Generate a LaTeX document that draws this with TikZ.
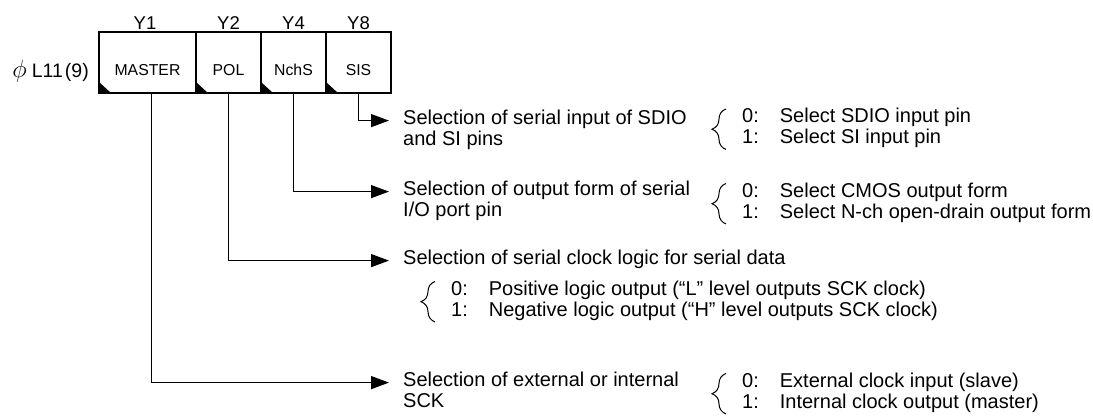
\documentclass[tikz,border=0pt]{standalone}
\usepackage{fontspec}
\setmainfont{Liberation Sans}
\usetikzlibrary{positioning,arrows.meta,decorations.pathreplacing,calc}
\tikzset{
  regcell/.style={draw,line width=1.3pt,outer sep=0pt,inner sep=0pt,minimum height=61pt,minimum width=65pt,text height=26pt,text depth=0pt,font=\fontsize{15.8}{17}\selectfont},
  regbit/.style={inner sep=0pt,font=\fontsize{18.5}{20}\selectfont},
  desc/.style={anchor=north west,align=left,inner sep=0pt,font=\fontsize{20}{21}\selectfont},
  optblock/.style={anchor=north west,inner sep=0pt,font=\fontsize{20}{21}\selectfont},
  selflow/.style={-{Triangle[length=18pt,width=13pt]},line width=1.3pt},
  selbrace/.style={decorate,decoration={brace,amplitude=14pt},line width=1pt}
}
\newcommand{\optrows}[2]{\begin{tabular}{@{}l@{\hspace{21pt}}l@{}}0: & #1\\1: & #2\end{tabular}}

\begin{document}
\begin{tikzpicture}[x=1pt,y=1pt]
  \useasboundingbox (0,0) rectangle (1093,-416);
  % register cells
  \node[regcell,minimum width=97pt] (master) at (147.5,-62.5) {MASTER};
  \node[regcell,right=0pt of master] (pol) {POL};
  \node[regcell,right=0pt of pol] (nchs) {NchS};
  \node[regcell,right=0pt of nchs] (sis) {SIS};
  \foreach \c in {master,pol,nchs,sis}
    \fill (\c.south west) -- ++(12,0) -- ++(-12,11) -- cycle;
  \node[regbit,above=2pt of master,xshift=-2.5pt] (y1) {Y1};
  \node[regbit,above=2pt of pol] (y2) {Y2};
  \node[regbit,above=2pt of nchs] (y4) {Y4};
  \node[regbit,above=2pt of sis] (y8) {Y8};
  \node[inner sep=0pt,font=\fontsize{19.5}{21}\selectfont,left=10pt of master,yshift=-8.5pt] (regname) {{\fontsize{25}{25}\selectfont$\phi$}\hspace{5pt}L11\hspace{2pt}(9)};
  % SIS
  \node[desc] (sisdesc) at (403,-109.6) {Selection of serial input of SDIO\\and SI pins};
  \node[optblock] (sisopt) at (742,-108) {\optrows{Select SDIO input pin}{Select SI input pin}};
  % NchS
  \node[desc] (nchsdesc) at (403,-180.6) {Selection of output form of serial\\I/O port pin};
  \node[optblock] (nchsopt) at (742,-182.5) {\optrows{Select CMOS output form}{Select N-ch open-drain output form}};
  % POL
  \node[desc] (poldesc) at (403,-249.6) {Selection of serial clock logic for serial data};
  \node[optblock] (polopt) at (451,-280.5) {\optrows{Positive logic output (“L” level outputs SCK clock)}{Negative logic output (“H” level outputs SCK clock)}};
  % MASTER
  \node[desc] (masterdesc) at (403,-371.6) {Selection of external or internal\\SCK};
  \node[optblock] (masteropt) at (742,-372.5) {\optrows{External clock input (slave)}{Internal clock output (master)}};
  % connectors
  \draw[selflow] (sis.south) |- ([xshift=-14pt,yshift=-11pt]sisdesc.north west);
  \draw[selflow] (nchs.south) |- ([xshift=-14pt,yshift=-11pt]nchsdesc.north west);
  \draw[selflow] (pol.south) |- ([xshift=-14pt,yshift=-11pt]poldesc.north west);
  \draw[selflow] ([xshift=4pt]master.south) |- ([xshift=-14pt,yshift=-11pt]masterdesc.north west);
  \foreach \o in {sisopt,nchsopt,polopt,masteropt}
    \draw[selbrace] ([xshift=-16pt,yshift=1pt]\o.south west) -- ([xshift=-16pt,yshift=-1pt]\o.north west);
\end{tikzpicture}
\end{document}
